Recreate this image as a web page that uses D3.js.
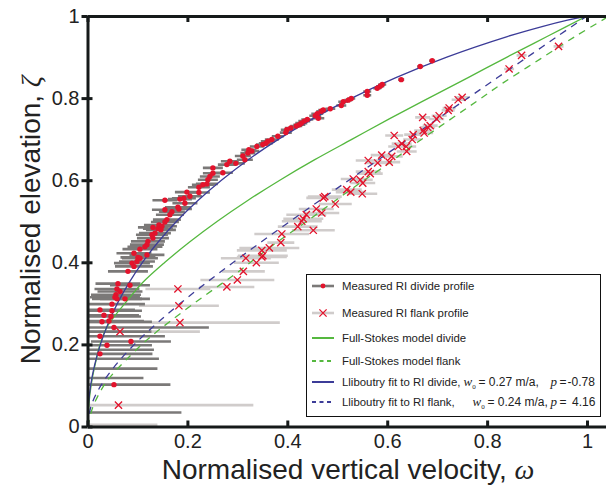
<!DOCTYPE html>
<html>
<head>
<meta charset="utf-8">
<script src="https://cdn.jsdelivr.net/npm/d3@7"></script>
<style>
    body { margin: 0; background: #fff; }
    text { font-family: "Liberation Sans", Arial, sans-serif; }
</style>
</head>
<body>
<script>
// tick values for both axes
const xTicks = [0, 0.2, 0.4, 0.6, 0.8, 1];
const yTicks = [0, 0.2, 0.4, 0.6, 0.8, 1];

// measured RI divide profile: [omega, zeta, half width of error bar]
const divideProfile = [
    [0.690,0.891,0.006],[0.666,0.877,0.006],[0.628,0.845,0.006],[0.590,0.833,0.008],
    [0.586,0.829,0.008],[0.580,0.824,0.008],[0.560,0.816,0.008],[0.560,0.807,0.008],
    [0.528,0.799,0.008],[0.522,0.795,0.008],[0.512,0.791,0.010],[0.508,0.782,0.010],
    [0.486,0.774,0.010],[0.472,0.771,0.010],[0.468,0.768,0.010],[0.460,0.762,0.012],
    [0.456,0.757,0.012],[0.462,0.751,0.012],[0.440,0.748,0.012],[0.434,0.744,0.012],
    [0.428,0.739,0.012],[0.424,0.735,0.012],[0.418,0.732,0.012],[0.407,0.727,0.012],
    [0.399,0.723,0.012],[0.397,0.716,0.012],[0.381,0.707,0.012],[0.369,0.699,0.014],
    [0.361,0.695,0.014],[0.357,0.690,0.014],[0.351,0.687,0.014],[0.339,0.682,0.014],
    [0.329,0.671,0.015],[0.323,0.674,0.015],[0.321,0.666,0.015],[0.311,0.659,0.016],
    [0.315,0.650,0.016],[0.297,0.641,0.018],[0.285,0.646,0.018],[0.279,0.638,0.018],
    [0.271,0.618,0.020],[0.251,0.630,0.020],[0.251,0.617,0.020],[0.245,0.609,0.020],
    [0.241,0.601,0.020],[0.231,0.589,0.022],[0.239,0.591,0.022],[0.223,0.583,0.022],
    [0.223,0.570,0.022],[0.199,0.571,0.024],[0.205,0.561,0.024],[0.193,0.556,0.024],
    [0.185,0.554,0.024],[0.195,0.544,0.025],[0.155,0.551,0.025],[0.181,0.534,0.026],
    [0.183,0.530,0.026],[0.155,0.528,0.026],[0.169,0.523,0.026],[0.165,0.516,0.028],
    [0.159,0.504,0.028],[0.155,0.498,0.028],[0.143,0.491,0.030],[0.149,0.488,0.030],
    [0.141,0.482,0.030],[0.147,0.479,0.030],[0.131,0.485,0.030],[0.135,0.471,0.032],
    [0.129,0.467,0.032],[0.131,0.459,0.032],[0.121,0.451,0.034],[0.119,0.443,0.034],
    [0.115,0.438,0.035],[0.105,0.432,0.035],[0.093,0.422,0.035],[0.101,0.412,0.035],
    [0.119,0.418,0.035],[0.105,0.410,0.036],[0.099,0.402,0.036],[0.089,0.398,0.036],
    [0.093,0.390,0.038],[0.081,0.378,0.040],[0.085,0.344,0.040],[0.061,0.348,0.045],
    [0.059,0.335,0.045],[0.065,0.329,0.045],[0.057,0.321,0.050],[0.055,0.315,0.050],
    [0.059,0.311,0.050],[0.075,0.311,0.050],[0.049,0.298,0.066],[0.025,0.284,0.070],
    [0.049,0.282,0.060],[0.033,0.271,0.070],[0.047,0.268,0.060],[0.029,0.255,0.100],
    [0.043,0.257,0.070],[0.053,0.241,0.190],[0.025,0.220,0.130],[0.039,0.198,0.090],
    [0.087,0.207,0.080],[0.025,0.177,0.105],[0.053,0.102,0.113],
    [-0.012,0.231,0.140],[-0.012,0.187,0.145],[-0.012,0.165,0.155],[-0.012,0.141,0.152],
    [-0.012,0.118,0.124],[-0.012,0.034,0.200]
];

// measured RI flank profile: [omega, zeta, half width of error bar]
const flankProfile = [
    [0.943,0.926,0.010],[0.869,0.904,0.010],[0.844,0.871,0.010],[0.750,0.802,0.013],
    [0.742,0.796,0.013],[0.724,0.776,0.013],[0.722,0.770,0.013],[0.704,0.757,0.015],
    [0.699,0.749,0.015],[0.671,0.753,0.015],[0.686,0.733,0.015],[0.681,0.729,0.015],
    [0.672,0.721,0.018],[0.674,0.715,0.018],[0.652,0.711,0.018],[0.650,0.699,0.018],
    [0.614,0.709,0.018],[0.629,0.689,0.020],[0.622,0.682,0.020],[0.638,0.682,0.020],
    [0.639,0.670,0.020],[0.609,0.658,0.022],[0.589,0.661,0.022],[0.581,0.642,0.025],
    [0.562,0.648,0.025],[0.604,0.644,0.022],[0.562,0.621,0.025],[0.566,0.616,0.025],
    [0.532,0.603,0.025],[0.546,0.601,0.025],[0.551,0.593,0.025],[0.519,0.577,0.030],
    [0.527,0.571,0.030],[0.550,0.567,0.030],[0.475,0.560,0.034],[0.472,0.557,0.034],
    [0.496,0.542,0.033],[0.458,0.530,0.035],[0.469,0.520,0.035],[0.438,0.516,0.040],
    [0.432,0.506,0.040],[0.429,0.500,0.040],[0.421,0.487,0.040],[0.452,0.478,0.043],
    [0.389,0.469,0.055],[0.387,0.448,0.027],[0.364,0.435,0.060],[0.349,0.429,0.050],
    [0.351,0.416,0.050],[0.349,0.413,0.050],[0.338,0.399,0.045],[0.317,0.410,0.050],
    [0.312,0.378,0.043],[0.300,0.357,0.074],[0.279,0.340,0.055],[0.181,0.335,0.065],
    [0.183,0.294,0.080],[0.185,0.253,0.200],[0.065,0.231,0.160],[0.062,0.052,0.270],
    [-0.015,0.004,0.155]
];

// model and fit curves: [omega, zeta]
const stokesDivide = [
    [0,0],[0.002,0.04],[0.005,0.08],[0.010,0.12],[0.017,0.16],[0.025,0.20],[0.038,0.24],
    [0.055,0.27],[0.075,0.30],[0.110,0.35],[0.155,0.40],[0.205,0.45],[0.260,0.50],
    [0.320,0.55],[0.385,0.60],[0.455,0.65],[0.530,0.70],[0.605,0.75],[0.683,0.80],
    [0.762,0.85],[0.840,0.90],[0.920,0.95],[1.000,1.00]
];
const stokesFlank = [
    [0,0],[0.010,0.045],[0.022,0.077],[0.038,0.109],[0.058,0.138],[0.077,0.162],
    [0.119,0.211],[0.165,0.256],[0.219,0.305],[0.265,0.345],[0.300,0.375],[0.345,0.418],
    [0.392,0.460],[0.445,0.505],[0.489,0.544],[0.542,0.590],[0.602,0.640],[0.646,0.680],
    [0.719,0.742],[0.779,0.792],[0.832,0.837],[0.906,0.895],[0.980,0.953],[1.045,1.000]
];
const lliboutryDivide = [
    [0,0],[0.0004,0.025],[0.0016,0.05],[0.0063,0.10],[0.0143,0.15],[0.0259,0.20],
    [0.0410,0.25],[0.0599,0.30],[0.0830,0.35],[0.1101,0.40],[0.1419,0.45],[0.1785,0.50],
    [0.2205,0.55],[0.2681,0.60],[0.3219,0.65],[0.3828,0.70],[0.4514,0.75],[0.5290,0.80],
    [0.6174,0.85],[0.7193,0.90],[0.8403,0.95],[0.9118,0.975],[0.9610,0.99],[1,1]
];
const lliboutryFlank = [
    [0,0],[0.0072,0.05],[0.0269,0.10],[0.0565,0.15],[0.0940,0.20],[0.1376,0.25],
    [0.1859,0.30],[0.2377,0.35],[0.2921,0.40],[0.3483,0.45],[0.4058,0.50],[0.4642,0.55],
    [0.5232,0.60],[0.5825,0.65],[0.6420,0.70],[0.7016,0.75],[0.7613,0.80],[0.8209,0.85],
    [0.8806,0.90],[0.9403,0.95],[1,1]
];

// legend labels
const legendLabels = [
    "Measured RI divide profile",
    "Measured RI flank profile",
    "Full-Stokes model divide",
    "Full-Stokes model flank",
    "Lliboutry fit to RI divide,",
    "Lliboutry fit to RI flank,"
];
const fitW0 = ["0.27", "0.24"];
const fitP = ["-0.78", "4.16"];

function main(){
    const width = 606;
    const height = 493;

    const red = "#e3132c";
    const green = "#55b83f";
    const blue = "#3c3c98";
    const darkBar = "#7b7978";
    const lightBar = "#d0cccb";
    const axisColor = "#161a1a";
    const serif = "'Liberation Serif', 'Times New Roman', serif";

    const svg = d3.select("body").append("svg")
        .attr("width", width)
        .attr("height", height);

    const xScale = d3.scaleLinear().domain([0, 1.05]).range([87.5, 612]);
    const yScale = d3.scaleLinear().domain([0, 1]).range([426.5, 16]);

    //clip everything to the axes box
    svg.append("clipPath").attr("id", "plotClip")
        .append("rect")
        .attr("x", xScale(0))
        .attr("y", yScale(1))
        .attr("width", xScale(1.05) - xScale(0))
        .attr("height", yScale(0) - yScale(1));

    const plot = svg.append("g").attr("clip-path", "url(#plotClip)");

    //error bars, flank first so the divide ones sit on top
    plot.selectAll(".flankBar")
        .data(flankProfile)
        .enter().append("line")
        .attr("class", "flankBar")
        .attr("x1", d => xScale(d[0] - d[2]))
        .attr("x2", d => xScale(d[0] + d[2]))
        .attr("y1", d => yScale(d[1]))
        .attr("y2", d => yScale(d[1]))
        .attr("stroke", lightBar)
        .attr("stroke-width", 2.6);

    plot.selectAll(".divideBar")
        .data(divideProfile)
        .enter().append("line")
        .attr("class", "divideBar")
        .attr("x1", d => xScale(d[0] - d[2]))
        .attr("x2", d => xScale(d[0] + d[2]))
        .attr("y1", d => yScale(d[1]))
        .attr("y2", d => yScale(d[1]))
        .attr("stroke", darkBar)
        .attr("stroke-width", 2.6);

    //the model and fit curves
    const line = d3.line()
        .x(d => xScale(d[0]))
        .y(d => yScale(d[1]))
        .curve(d3.curveCatmullRom);

    const curves = [
        {data: stokesDivide, color: green, dash: null},
        {data: stokesFlank, color: green, dash: "7,6"},
        {data: lliboutryDivide, color: blue, dash: null},
        {data: lliboutryFlank, color: blue, dash: "7,6"}
    ];

    plot.selectAll(".curve")
        .data(curves)
        .enter().append("path")
        .attr("class", "curve")
        .attr("d", d => line(d.data))
        .attr("fill", "none")
        .attr("stroke", d => d.color)
        .attr("stroke-width", 1.3)
        .attr("stroke-dasharray", d => d.dash);

    //markers
    const cross = "M-3.6,-3.6L3.6,3.6M-3.6,3.6L3.6,-3.6";

    plot.selectAll(".flankMark")
        .data(flankProfile)
        .enter().append("path")
        .attr("class", "flankMark")
        .attr("d", cross)
        .attr("transform", d => "translate(" + xScale(d[0]) + "," + yScale(d[1]) + ")")
        .attr("stroke", red)
        .attr("stroke-width", 1.3)
        .attr("fill", "none");

    plot.selectAll(".divideMark")
        .data(divideProfile)
        .enter().append("circle")
        .attr("class", "divideMark")
        .attr("cx", d => xScale(d[0]))
        .attr("cy", d => yScale(d[1]))
        .attr("r", 2.7)
        .attr("fill", red);

    //axes
    const fmt = d => d3.format("")(d);

    const xAxis = svg.append("g")
        .attr("transform", "translate(0," + yScale(0) + ")")
        .call(d3.axisBottom(xScale).tickValues(xTicks).tickFormat(fmt)
            .tickSize(-6).tickSizeOuter(0).tickPadding(7));

    const topAxis = svg.append("g")
        .attr("transform", "translate(0," + yScale(1) + ")")
        .call(d3.axisTop(xScale).tickValues(xTicks).tickFormat("")
            .tickSize(-6).tickSizeOuter(0));

    const yAxis = svg.append("g")
        .attr("transform", "translate(" + xScale(0) + ",0)")
        .call(d3.axisLeft(yScale).tickValues(yTicks).tickFormat(fmt)
            .tickSize(6).tickSizeOuter(0).tickPadding(2));

    //inner half of the y ticks
    const yInner = svg.append("g")
        .attr("transform", "translate(" + xScale(0) + ",0)")
        .call(d3.axisLeft(yScale).tickValues(yTicks).tickFormat("")
            .tickSize(-5).tickSizeOuter(0));

    [xAxis, topAxis, yAxis, yInner].forEach(g => {
        g.select(".domain").attr("stroke", axisColor).attr("stroke-width", 3);
        g.selectAll(".tick line").attr("stroke", axisColor).attr("stroke-width", 3);
        g.selectAll(".tick text")
            .attr("fill", "#222")
            .attr("font-size", "20px")
            .attr("font-family", "'Liberation Sans', Arial, sans-serif");
    });
    yInner.select(".domain").remove();

    //axis titles
    const xTitle = svg.append("text")
        .attr("x", 348)
        .attr("y", 479)
        .attr("text-anchor", "middle")
        .attr("font-size", "28px")
        .attr("fill", "#222")
        .text("Normalised vertical velocity, ");
    xTitle.append("tspan")
        .attr("font-family", serif)
        .attr("font-style", "italic")
        .text("ω");

    const yTitle = svg.append("text")
        .attr("transform", "rotate(-90)")
        .attr("x", -220)
        .attr("y", 40)
        .attr("text-anchor", "middle")
        .attr("font-size", "28px")
        .attr("fill", "#222")
        .text("Normalised elevation, ");
    yTitle.append("tspan")
        .attr("font-family", serif)
        .attr("font-style", "italic")
        .text("ζ");

    //legend box
    const legend = svg.append("g");
    legend.append("rect")
        .attr("x", 306.5)
        .attr("y", 274.5)
        .attr("width", 294)
        .attr("height", 142)
        .attr("fill", "white")
        .attr("stroke", "#111")
        .attr("stroke-width", 1);

    const rowY = [286, 313, 338, 361, 382, 402];
    const sampleX1 = 312, sampleX2 = 334, sampleMid = 323, textX = 342;

    const samples = [
        {color: darkBar, width: 2.6, dash: null},
        {color: lightBar, width: 2.6, dash: null},
        {color: green, width: 2, dash: null},
        {color: green, width: 2, dash: "4,3.5"},
        {color: blue, width: 2, dash: null},
        {color: blue, width: 2, dash: "4,3.5"}
    ];

    samples.forEach((s, i) => {
        legend.append("line")
            .attr("x1", sampleX1).attr("x2", sampleX2)
            .attr("y1", rowY[i]).attr("y2", rowY[i])
            .attr("stroke", s.color)
            .attr("stroke-width", s.width)
            .attr("stroke-dasharray", s.dash);
    });

    legend.append("circle")
        .attr("cx", sampleMid).attr("cy", rowY[0])
        .attr("r", 2.4).attr("fill", red);
    legend.append("path")
        .attr("d", cross)
        .attr("transform", "translate(" + sampleMid + "," + rowY[1] + ")")
        .attr("stroke", red).attr("stroke-width", 1.3);

    legendLabels.forEach((label, i) => {
        legend.append("text")
            .attr("x", textX)
            .attr("y", rowY[i] + 4)
            .attr("font-size", "11.4px")
            .attr("fill", "#222")
            .text(label);
    });

    //w0 and p values of the two Lliboutry fits
    const wX = [463.5, 472.5];
    const eqX = [478.5, 487.5];
    const pValX = [567.5, 572];
    fitW0.forEach((w, i) => {
        const y = rowY[4 + i] + 4;
        const t = legend.append("text")
            .attr("y", y)
            .attr("font-size", "12px")
            .attr("fill", "#222");
        t.append("tspan")
            .attr("x", wX[i])
            .attr("font-family", serif)
            .attr("font-style", "italic")
            .attr("font-size", "13px")
            .text("w");
        t.append("tspan")
            .attr("dy", 3)
            .attr("font-size", "7px")
            .attr("font-family", serif)
            .text("0");
        t.append("tspan")
            .attr("x", eqX[i])
            .attr("dy", -3)
            .text("= " + w + " m/a,");
        t.append("tspan")
            .attr("x", 550.5)
            .attr("font-family", serif)
            .attr("font-style", "italic")
            .attr("font-size", "13px")
            .text("p");
        t.append("tspan")
            .attr("x", 559.5)
            .text("=");
        t.append("tspan")
            .attr("x", pValX[i])
            .text(fitP[i]);
    });
}
main();
</script>
</body>
</html>
